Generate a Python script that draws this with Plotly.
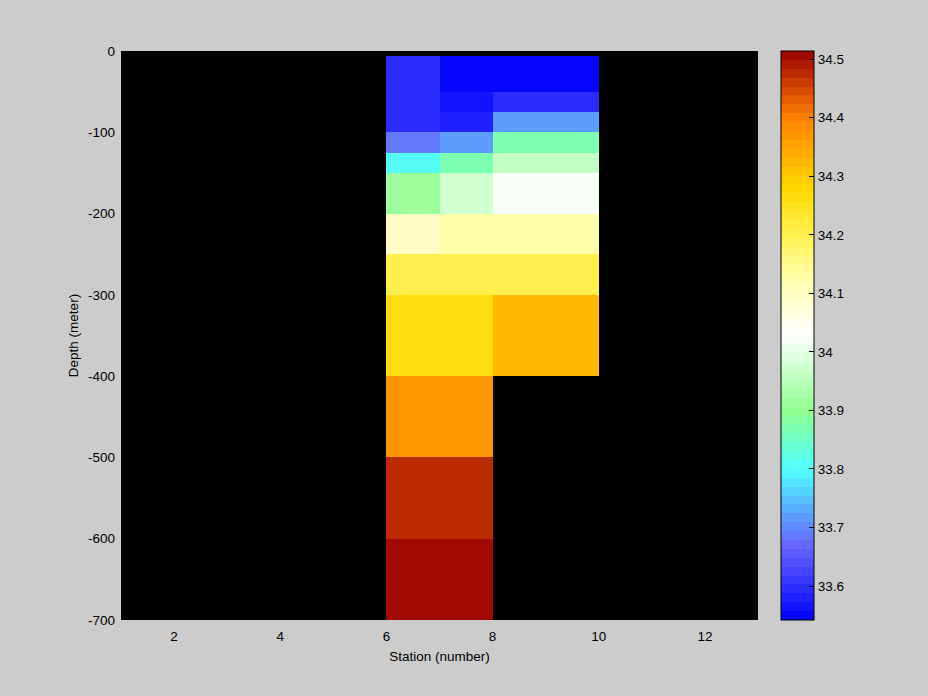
import numpy as np
import plotly.graph_objects as go

# Station cell edges (number) and depth cell edges (meter)
station_edges = [1, 6, 7, 8, 10, 13]
depth_edges = [-700, -600, -500, -400, -300, -250, -200, -150, -125, -100, -75, -50, -6, 0]

# Salinity values per column, listed from deepest bin to the surface bin (None = no data)
station_6 = [34.51, 34.47, 34.375, 34.26, 34.20, 34.09, 33.92, 33.81, 33.68, 33.60, 33.60, 33.60, None]
station_7 = [34.51, 34.47, 34.375, 34.26, 34.20, 34.12, 33.98, 33.87, 33.71, 33.575, 33.56, 33.545, None]
station_8 = [None, None, None, 34.33, 34.20, 34.12, 34.02, 33.965, 33.87, 33.72, 33.59, 33.545, None]

cmin, cmax = 33.542, 34.514
cbar_ticks = [33.6, 33.7, 33.8, 33.9, 34.0, 34.1, 34.2, 34.3, 34.4, 34.5]
cbar_text = ["33.6", "33.7", "33.8", "33.9", "34", "34.1", "34.2", "34.3", "34.4", "34.5"]
x_ticks = [2, 4, 6, 8, 10, 12]
y_ticks = [0, -100, -200, -300, -400, -500, -600, -700]

# colormap anchors (value, rgb)
anchors = [
    (33.542, (0, 0, 255)),
    (33.60, (0x30, 0x30, 0xff)),
    (33.67, (0x66, 0x66, 0xff)),
    (33.72, (0x5c, 0xa0, 0xff)),
    (33.80, (0x50, 0xff, 0xff)),
    (33.90, (0x90, 0xff, 0x90)),
    (34.03, (0xff, 0xff, 0xff)),
    (34.12, (0xff, 0xff, 0xb0)),
    (34.20, (0xff, 0xf0, 0x50)),
    (34.28, (0xff, 0xd8, 0x00)),
    (34.40, (0xff, 0x80, 0x00)),
    (34.514, (0x99, 0x00, 0x00)),
]
av = np.array([a[0] for a in anchors])
ac = np.array([a[1] for a in anchors], dtype=float)
N = 64
colorscale = []
for i in range(N):
    v = cmin + (i + 0.5) / N * (cmax - cmin)
    rgb = [int(round(np.interp(v, av, ac[:, k]))) for k in range(3)]
    col = f"rgb({rgb[0]},{rgb[1]},{rgb[2]})"
    colorscale.append([i / N, col])
    colorscale.append([(i + 1) / N, col])

nan = np.nan
nrows = len(depth_edges) - 1
z = []
for r in range(nrows):
    row = [nan,
           station_6[r] if station_6[r] is not None else nan,
           station_7[r] if station_7[r] is not None else nan,
           station_8[r] if station_8[r] is not None else nan,
           nan]
    z.append(row)

font = dict(family="Liberation Sans, Arial, sans-serif", size=13.5, color="black")

fig = go.Figure(go.Heatmap(
    x=station_edges, y=depth_edges, z=z,
    zmin=cmin, zmax=cmax, colorscale=colorscale,
    colorbar=dict(
        x=1.036, xanchor="left", xpad=0, ypad=0,
        y=0.5, yanchor="middle", len=1, lenmode="fraction",
        thickness=33, outlinecolor="black", outlinewidth=1,
        tickvals=cbar_ticks, ticktext=cbar_text,
        ticks="inside", ticklen=5, tickcolor="black",
        tickfont=font,
    ),
    hoverongaps=False,
))

fig.update_layout(
    width=928, height=696,
    margin=dict(l=121, r=170, t=51, b=76),
    paper_bgcolor="#cccccc", plot_bgcolor="black",
    font=font,
    xaxis=dict(range=[1, 13], tickvals=x_ticks, ticktext=[str(t) for t in x_ticks],
               showgrid=False, zeroline=False, ticks="", ticklabelstandoff=6,
               title=dict(text="Station (number)", font=font, standoff=9)),
    yaxis=dict(range=[-700, 0], tickvals=y_ticks, ticktext=[str(t) for t in y_ticks],
               showgrid=False, zeroline=False, ticks="", ticklabelstandoff=5,
               title=dict(text="Depth (meter)", font=font, standoff=6)),
)

fig.write_html("out.html", config={"displayModeBar": False},
               post_script="document.body.style.margin='0';document.body.style.padding='0';")
